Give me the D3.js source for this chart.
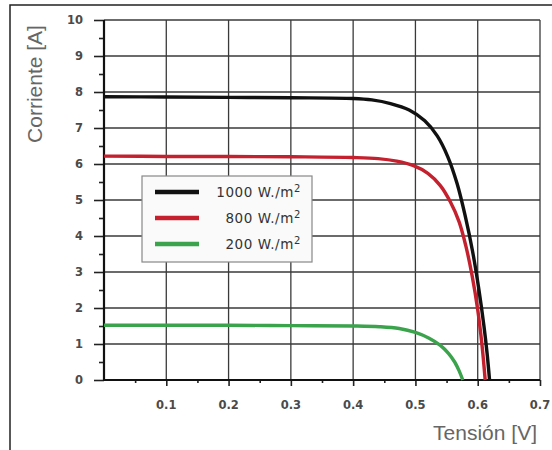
<!DOCTYPE html>
<html>
<head>
    <meta charset="utf-8">
    <title>Curva I-V</title>
    <script src="https://d3js.org/d3.v7.min.js"></script>
    <style>
        body { margin: 0; background: #fff; }
        svg { display: block; }
        .tick-label { font-family: "DejaVu Sans", sans-serif; font-size: 11.5px; font-weight: bold; fill: #4a4a4a; }
        .axis-title { font-family: "Liberation Sans", Arial, sans-serif; font-size: 21px; fill: #666; }
        .legend-text { font-family: "DejaVu Sans", sans-serif; font-size: 13.5px; fill: #333; letter-spacing: 0.6px; }
    </style>
</head>
<body>
<svg id="chart" width="552" height="450"></svg>
<script>
    // tensión [V] / corriente [A]
    var v1000 = [0, 0.1, 0.2, 0.3, 0.4, 0.43, 0.46, 0.49, 0.515, 0.535, 0.552, 0.567, 0.58, 0.592, 0.602, 0.61, 0.615, 0.619];
    var i1000 = [7.87, 7.86, 7.85, 7.84, 7.82, 7.78, 7.68, 7.50, 7.20, 6.78, 6.20, 5.45, 4.55, 3.55, 2.50, 1.50, 0.75, 0];

    var v800 = [0, 0.1, 0.2, 0.3, 0.4, 0.44, 0.47, 0.496, 0.52, 0.54, 0.556, 0.57, 0.581, 0.591, 0.6, 0.607, 0.612];
    var i800 = [6.22, 6.21, 6.21, 6.20, 6.18, 6.15, 6.08, 5.96, 5.74, 5.40, 4.95, 4.40, 3.72, 2.90, 1.95, 0.95, 0];

    var v200 = [0, 0.1, 0.2, 0.3, 0.4, 0.442, 0.474, 0.5, 0.522, 0.54, 0.553, 0.563, 0.57, 0.576];
    var i200 = [1.52, 1.52, 1.52, 1.51, 1.50, 1.48, 1.43, 1.32, 1.16, 0.96, 0.74, 0.50, 0.26, 0];

    var seriesNames = ["1000 W./m", "800 W./m", "200 W./m"];
    var seriesColors = ["#111111", "#c4202e", "#3aa34c"];

    var xTicks = [0.1, 0.2, 0.3, 0.4, 0.5, 0.6, 0.7];
    var yTicks = [0, 1, 2, 3, 4, 5, 6, 7, 8, 9, 10];

    var svg = d3.select("#chart");

    // marco exterior (sólo arriba e izquierda)
    svg.append("path")
        .attr("d", "M10,450V5H552")
        .attr("fill", "none")
        .attr("stroke", "#222")
        .attr("stroke-width", 1.5);

    var x = d3.scaleLinear().domain([0, 0.7]).range([104, 540]);
    var y = d3.scaleLinear().domain([0, 10]).range([380, 20]);

    // rejilla
    svg.append("g").selectAll("line")
        .data(yTicks.slice(1))
        .join("line")
        .attr("x1", x(0)).attr("x2", x(0.7))
        .attr("y1", d => y(d)).attr("y2", d => y(d))
        .attr("stroke", "#3a3a3a")
        .attr("stroke-width", 1.5);

    svg.append("g").selectAll("line")
        .data(xTicks)
        .join("line")
        .attr("x1", d => x(d)).attr("x2", d => x(d))
        .attr("y1", y(0)).attr("y2", y(10))
        .attr("stroke", "#3a3a3a")
        .attr("stroke-width", 1.3);

    // ejes con ticks menores
    var yAxis = d3.axisLeft(y).tickValues(yTicks).tickSize(10).tickFormat("");
    var yMinor = d3.axisLeft(y).tickValues(d3.range(0.5, 10, 1)).tickSize(5).tickFormat("");
    var xAxis = d3.axisBottom(x).tickValues(xTicks).tickSize(6).tickFormat("");
    var xMinor = d3.axisBottom(x).tickValues(d3.range(0.05, 0.7, 0.1)).tickSize(3).tickFormat("");

    [yAxis, yMinor].forEach(function (a) {
        var g = svg.append("g").attr("transform", "translate(" + x(0) + ",0)").call(a);
        g.select(".domain").remove();
        g.selectAll("line").attr("stroke", "#222").attr("stroke-width", 1.6);
    });
    [xAxis, xMinor].forEach(function (a) {
        var g = svg.append("g").attr("transform", "translate(0," + y(0) + ")").call(a);
        g.select(".domain").remove();
        g.selectAll("line").attr("stroke", "#222").attr("stroke-width", 1.6);
    });

    svg.append("line")
        .attr("x1", x(0)).attr("x2", x(0))
        .attr("y1", y(0) + 1).attr("y2", y(10))
        .attr("stroke", "#111").attr("stroke-width", 2.2);
    svg.append("line")
        .attr("x1", x(0) - 1).attr("x2", x(0.7))
        .attr("y1", y(0)).attr("y2", y(0))
        .attr("stroke", "#111").attr("stroke-width", 2.2);

    // etiquetas de los ticks
    svg.append("g").selectAll("text")
        .data(yTicks)
        .join("text")
        .attr("class", "tick-label")
        .attr("x", 83)
        .attr("y", d => y(d) + 4)
        .attr("text-anchor", "end")
        .text(d => d);

    svg.append("g").selectAll("text")
        .data(xTicks)
        .join("text")
        .attr("class", "tick-label")
        .attr("x", d => x(d))
        .attr("y", 409)
        .attr("text-anchor", "middle")
        .text(d => d3.format(".1f")(d));

    // títulos
    svg.append("text")
        .attr("class", "axis-title")
        .attr("transform", "translate(42,84) rotate(-90)")
        .attr("text-anchor", "middle")
        .text("Corriente [A]");

    svg.append("text")
        .attr("class", "axis-title")
        .attr("x", 537)
        .attr("y", 440)
        .attr("text-anchor", "end")
        .text("Tensión [V]");

    // curvas
    var line = d3.line()
        .x(d => x(d[0]))
        .y(d => y(d[1]))
        .curve(d3.curveCatmullRom.alpha(0.5));

    var series = [d3.zip(v1000, i1000), d3.zip(v800, i800), d3.zip(v200, i200)];

    svg.append("g").selectAll("path")
        .data(series)
        .join("path")
        .attr("d", line)
        .attr("fill", "none")
        .attr("stroke", (d, i) => seriesColors[i])
        .attr("stroke-width", 3.4)
        .attr("stroke-linejoin", "round");

    // leyenda
    var legend = svg.append("g");
    legend.append("rect")
        .attr("x", 142).attr("y", 176)
        .attr("width", 170).attr("height", 86)
        .attr("fill", "#fafafa")
        .attr("stroke", "#888")
        .attr("stroke-width", 1.2);

    var rows = legend.selectAll("g.row")
        .data(seriesNames)
        .join("g")
        .attr("class", "row")
        .attr("transform", (d, i) => "translate(0," + [192, 218, 244][i] + ")");

    rows.append("line")
        .attr("x1", 155).attr("x2", 199)
        .attr("stroke", (d, i) => seriesColors[i])
        .attr("stroke-width", 4.5);

    var t = rows.append("text")
        .attr("class", "legend-text")
        .attr("x", 301)
        .attr("y", 5)
        .attr("text-anchor", "end");
    t.append("tspan").text(d => d);
    t.append("tspan").attr("dy", -5).attr("font-size", "10px").text("2");
</script>
</body>
</html>
